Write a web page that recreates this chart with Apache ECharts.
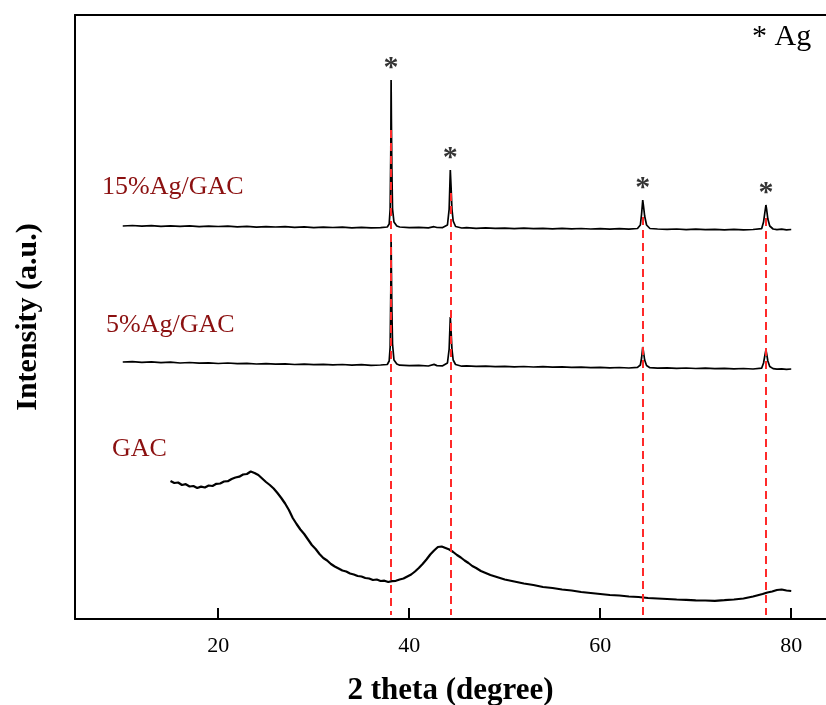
<!DOCTYPE html>
<html>
<head>
<meta charset="utf-8">
<script src="https://cdn.jsdelivr.net/npm/echarts@6/dist/echarts.min.js"></script>
<style>
html,body{margin:0;padding:0;background:#fff;}
#chart{width:826px;height:705px;}
</style>
</head>
<body>
<div id="chart"></div>
<script>
// 2 theta (degree), intensity (a.u., stacked with offsets)
const ag15 = [
  [10,393],[11,393.5],[12,392.8],[13,393.4],[14,392.6],[15,393.1],[16,392.7],[17,393.2],[18,392.4],[19,392.9],
  [20,392.5],[21,392.9],[22,392.1],[23,392.6],[24,391.8],[25,392.3],[26,392],[27,392.4],[28,391.7],[29,392.1],
  [30,391.4],[31,391.9],[32,391.5],[33,391.8],[34,391.2],[35,391.6],[36,391.1],[37,391.4],[37.7,392],[37.9,395],
  [38.0,410],[38.07,470],[38.1,539],[38.13,500],[38.18,450],[38.25,410],[38.4,397],[38.7,393],[39,392],[40,391.3],
  [41,391.6],[42,391.1],[42.6,392.3],[42.9,391.5],[43.5,391.4],[44.0,394],[44.18,410],[44.3,449],[44.38,432],[44.47,410],
  [44.6,398],[44.85,392.5],[45.5,391],[46,391.4],[47,390.7],[48,391.1],[49,390.6],[50,390.9],[51,390.4],[52,390.8],
  [53,390.3],[54,390.7],[55,390.2],[56,390.6],[57,390.1],[58,390.5],[59,390],[60,390.4],[61,389.9],[62,390.3],
  [63,389.9],[63.9,390.5],[64.2,394],[64.33,405],[64.45,419],[64.53,413],[64.65,403],[64.85,394],[65.2,390.5],[66,390],
  [67,389.6],[68,390],[69,389.4],[70,389.8],[71,389.3],[72,389.7],[73,389.2],[74,389.6],[75,389.2],[76,389.5],
  [76.9,390.3],[77.1,397],[77.23,406],[77.35,414],[77.43,409],[77.55,400],[77.75,393],[78.1,390],[78.5,389.4],[79,389.8],
  [79.5,389.2],[80,389.5]
];
const ag5 = [
  [10,257],[11,257.4],[12,256.6],[13,257.1],[14,256.3],[15,256.8],[16,256],[17,256.5],[18,255.8],[19,256.2],
  [20,255.5],[21,256],[22,255.3],[23,255.7],[24,255],[25,255.4],[26,254.8],[27,255.2],[28,254.5],[29,254.9],
  [30,254.3],[31,254.7],[32,254.1],[33,254.5],[34,253.9],[35,254.3],[36,253.7],[37,254],[37.7,254.5],[37.9,258],
  [38.0,272],[38.07,330],[38.1,383],[38.13,350],[38.18,310],[38.25,275],[38.4,259],[38.7,255],[39,253.8],[40,253.3],
  [41,253.6],[42,253],[42.6,254.6],[42.9,253.4],[43.5,253.2],[44.0,256],[44.18,270],[44.3,302],[44.38,288],[44.47,270],
  [44.6,259],[44.85,254.5],[45.5,252.8],[46,253.1],[47,252.6],[48,252.9],[49,252.4],[50,252.7],[51,252.2],[52,252.5],
  [53,252],[54,252.3],[55,251.8],[56,252.1],[57,251.6],[58,251.9],[59,251.4],[60,251.7],[61,251.2],[62,251.5],
  [63,251],[63.9,251.6],[64.2,254],[64.33,261],[64.45,272],[64.53,267],[64.65,259],[64.85,253.5],[65.2,251.3],[66,250.9],
  [67,251.2],[68,250.7],[69,251],[70,250.5],[71,250.8],[72,250.3],[73,250.6],[74,250.2],[75,250.5],[76,250],
  [76.9,250.8],[77.1,256],[77.23,263],[77.35,269],[77.43,265],[77.55,258],[77.75,252.5],[78.1,250.4],[78.5,249.8],[79,250.2],
  [79.5,249.7],[80,250]
];
const gac = [
  [15,138],[15.4,136],[15.8,136.5],[16.2,134],[16.6,134.8],[17,132.5],[17.4,133],[17.8,131],[18.2,132.4],[18.6,131.5],
  [19,133.5],[19.4,133],[19.8,135.2],[20.2,135.5],[20.6,137.5],[21,137.8],[21.4,140],[21.8,141.5],[22.2,142.3],[22.6,144.5],
  [23,145],[23.4,147.5],[23.8,146],[24.2,144],[24.6,140.5],[25,137],[25.4,134],[25.8,130.5],[26.2,126],[26.6,121],
  [27,115.5],[27.4,109],[27.8,101],[28.2,95],[28.6,89.5],[29,85],[29.4,79.5],[29.8,74],[30.2,70],[30.6,65],
  [31,61],[31.4,58.5],[31.8,55],[32.2,52.5],[32.6,50.5],[33,48.5],[33.4,47.5],[33.8,45.5],[34.2,44.5],[34.6,43],
  [35,42.5],[35.4,41],[35.8,40.5],[36.2,39],[36.6,39.5],[37,38],[37.4,38.3],[37.8,37],[38.2,37.8],[38.6,38.2],
  [39,39.5],[39.4,40.5],[39.8,42.5],[40.2,44.5],[40.6,47.5],[41,51],[41.4,55],[41.8,59.5],[42.2,64.5],[42.6,68.5],
  [43,72],[43.4,72.5],[43.8,71],[44.2,69.5],[44.6,67],[45,64],[45.4,61.5],[45.8,58.5],[46.2,56],[46.6,53],
  [47,51],[47.5,48],[48,46],[48.5,44],[49,42.5],[49.5,41],[50,39.5],[51,37.5],[52,35.5],[53,34],
  [54,32],[55,31],[56,29.5],[57,28.5],[58,27],[59,26],[60,25],[61,24],[62,23.5],[63,22.5],
  [64,22],[65,21],[66,20.5],[67,20],[68,19.5],[69,19.2],[70,18.7],[71,18.5],[72,18.2],[73,18.8],
  [74,19.5],[75,20.5],[76,22.5],[77,25],[77.5,26.5],[78,27.5],[78.5,29],[79,29.5],[79.5,28.5],[80,28]
];
const peaksX = [38.1, 44.3, 64.45, 77.35];
const peakTop15 = [539, 449, 419, 414];
const refTop = [489, 426, 402, 401];
const refBottom = 4;
const xTicks = [20, 40, 60, 80];
const sampleNames = ['15%Ag/GAC', '5%Ag/GAC', 'GAC'];

const serif = '"Liberation Serif", "Times New Roman", serif';
const chart = echarts.init(document.getElementById('chart'));
const starData = peaksX.map((x, i) => [x, peakTop15[i]]);
const refLines = peaksX.map((x, i) => [{coord: [x, refTop[i]]}, {coord: [x, refBottom]}]);
const X_MIN = 5, X_MAX = 83.64;

chart.setOption({
  backgroundColor: '#fff',
  animation: false,
  grid: {left: 75, right: 0, top: 15, bottom: 86, containLabel: false, outerBoundsMode: 'none'},
  xAxis: [{
    type: 'value', min: X_MIN, max: X_MAX,
    name: '2 theta (degree)', nameLocation: 'middle', nameGap: 56,
    nameTextStyle: {fontFamily: serif, fontWeight: 'bold', fontSize: 31, color: '#000'},
    axisLine: {show: true, onZero: false, lineStyle: {color: '#000', width: 2}},
    axisTick: {show: true, inside: true, length: 11, customValues: xTicks, lineStyle: {color: '#000', width: 2}},
    axisLabel: {customValues: xTicks, fontFamily: serif, fontSize: 22, color: '#000', margin: 16},
    splitLine: {show: false}
  }, {
    type: 'value', min: X_MIN, max: X_MAX, position: 'top',
    axisLine: {show: true, onZero: false, lineStyle: {color: '#000', width: 2}},
    axisTick: {show: false}, axisLabel: {show: false}, splitLine: {show: false}
  }],
  yAxis: {
    type: 'value', min: 0, max: 604,
    name: 'Intensity (a.u.)', nameLocation: 'middle', nameGap: 32,
    nameTextStyle: {fontFamily: serif, fontWeight: 'bold', fontSize: 30, color: '#000'},
    axisLine: {show: true, lineStyle: {color: '#000', width: 2}},
    axisTick: {show: false}, axisLabel: {show: false}, splitLine: {show: false}
  },
  series: [
    {name: sampleNames[2], type: 'line', data: gac, showSymbol: false, symbol: 'none', lineStyle: {color: '#000', width: 2.2}, z: 3},
    {name: sampleNames[1], type: 'line', data: ag5, showSymbol: false, symbol: 'none', lineStyle: {color: '#000', width: 1.7}, z: 3},
    {name: sampleNames[0], type: 'line', data: ag15, showSymbol: false, symbol: 'none', lineStyle: {color: '#000', width: 1.7}, z: 3},
    {
      name: 'ref', type: 'line', data: [], z: 4,
      markLine: {silent: true, symbol: ['none', 'none'], label: {show: false},
        lineStyle: {color: '#ff2a2a', width: 2, type: [8, 5]}, data: refLines}
    },
    {
      name: 'stars', type: 'scatter', data: starData, symbolSize: 0, z: 5,
      label: {show: true, position: 'top', distance: -3, formatter: '*', fontFamily: serif, fontWeight: 'bold', fontSize: 30, color: '#000'}
    }
  ],
  graphic: [
    {type: 'text', left: 102, top: 174, style: {text: sampleNames[0], fontFamily: serif, fontSize: 26, fill: '#8b1010'}},
    {type: 'text', left: 106, top: 312, style: {text: sampleNames[1], fontFamily: serif, fontSize: 26, fill: '#8b1010'}},
    {type: 'text', left: 112, top: 436, style: {text: sampleNames[2], fontFamily: serif, fontSize: 26, fill: '#8b1010'}},
    {type: 'text', left: 752, top: 22, style: {text: '* Ag', fontFamily: serif, fontSize: 30, fill: '#000'}}
  ]
});
</script>
</body>
</html>
